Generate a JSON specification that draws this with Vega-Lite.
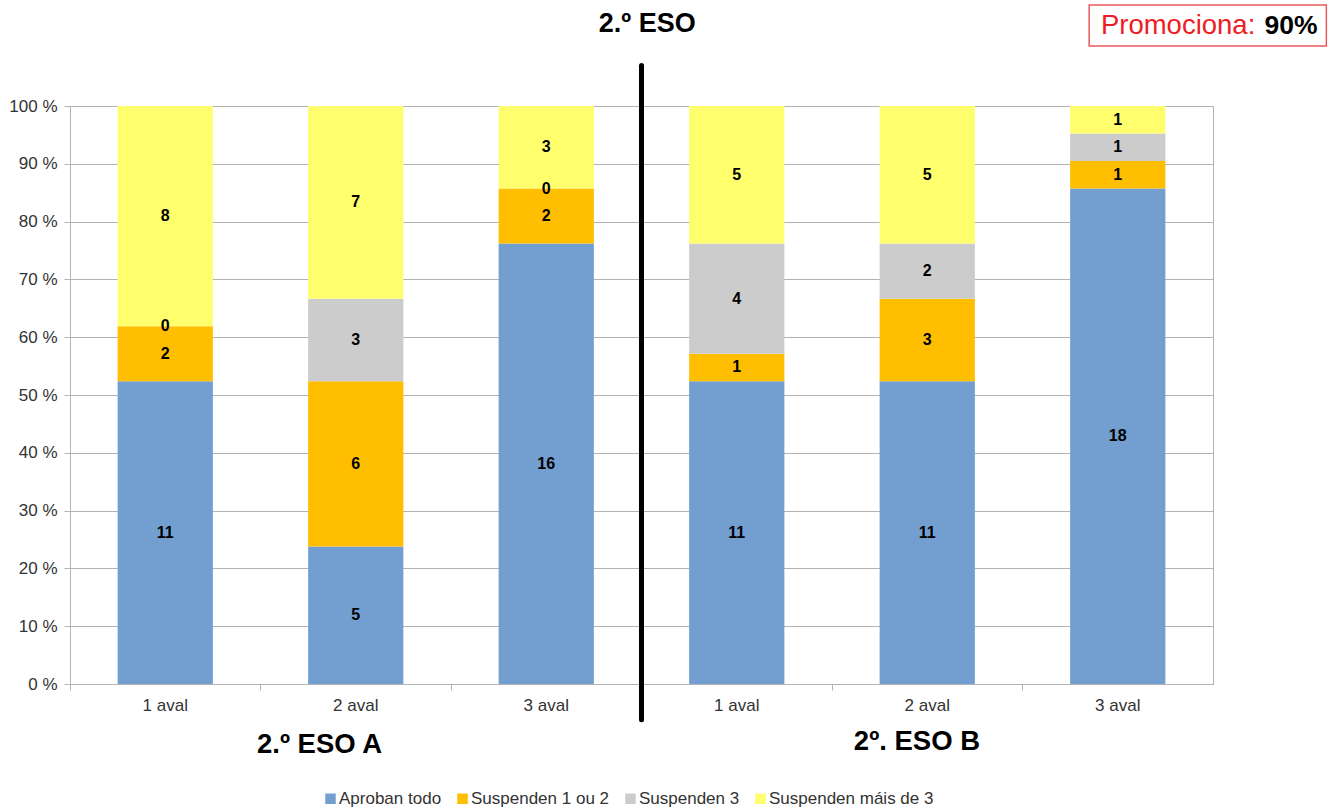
{
  "$schema": "https://vega.github.io/schema/vega-lite/v6.json",
  "width": 1143,
  "height": 578,
  "autosize": {"type": "none"},
  "padding": {"left": 70, "top": 106, "right": 125, "bottom": 126},
  "config": {
    "font": "Liberation Sans",
    "view": {"stroke": "#b3b3b3", "strokeWidth": 1}
  },
  "data": {
    "values": [
      {"k": "A 1 aval", "estado": "Aproban todo", "n": 11},
      {"k": "A 1 aval", "estado": "Suspenden 1 ou 2", "n": 2},
      {"k": "A 1 aval", "estado": "Suspenden 3", "n": 0},
      {"k": "A 1 aval", "estado": "Suspenden máis de 3", "n": 8},
      {"k": "A 2 aval", "estado": "Aproban todo", "n": 5},
      {"k": "A 2 aval", "estado": "Suspenden 1 ou 2", "n": 6},
      {"k": "A 2 aval", "estado": "Suspenden 3", "n": 3},
      {"k": "A 2 aval", "estado": "Suspenden máis de 3", "n": 7},
      {"k": "A 3 aval", "estado": "Aproban todo", "n": 16},
      {"k": "A 3 aval", "estado": "Suspenden 1 ou 2", "n": 2},
      {"k": "A 3 aval", "estado": "Suspenden 3", "n": 0},
      {"k": "A 3 aval", "estado": "Suspenden máis de 3", "n": 3},
      {"k": "B 1 aval", "estado": "Aproban todo", "n": 11},
      {"k": "B 1 aval", "estado": "Suspenden 1 ou 2", "n": 1},
      {"k": "B 1 aval", "estado": "Suspenden 3", "n": 4},
      {"k": "B 1 aval", "estado": "Suspenden máis de 3", "n": 5},
      {"k": "B 2 aval", "estado": "Aproban todo", "n": 11},
      {"k": "B 2 aval", "estado": "Suspenden 1 ou 2", "n": 3},
      {"k": "B 2 aval", "estado": "Suspenden 3", "n": 2},
      {"k": "B 2 aval", "estado": "Suspenden máis de 3", "n": 5},
      {"k": "B 3 aval", "estado": "Aproban todo", "n": 18},
      {"k": "B 3 aval", "estado": "Suspenden 1 ou 2", "n": 1},
      {"k": "B 3 aval", "estado": "Suspenden 3", "n": 1},
      {"k": "B 3 aval", "estado": "Suspenden máis de 3", "n": 1}
    ]
  },
  "encoding": {
    "x": {
      "field": "k",
      "type": "nominal",
      "sort": null,
      "scale": {"paddingInner": 0, "paddingOuter": 0},
      "axis": {
        "title": null,
        "labelExpr": "substring(datum.value, 2)",
        "labelAngle": 0,
        "bandPosition": 0,
        "tickSize": 6,
        "labelPadding": 7,
        "labelFontSize": 17,
        "labelColor": "#333333",
        "domainColor": "#b3b3b3",
        "tickColor": "#b3b3b3",
        "grid": false
      }
    }
  },
  "layer": [
    {
      "mark": {"type": "bar", "width": {"band": 0.5}},
      "encoding": {
        "y": {
          "field": "n",
          "type": "quantitative",
          "stack": "normalize",
          "scale": {"domain": [0, 1], "nice": false},
          "axis": {
            "title": null,
            "values": [0, 0.1, 0.2, 0.3, 0.4, 0.5, 0.6, 0.7, 0.8, 0.9, 1],
            "labelExpr": "format(datum.value * 100, 'd') + ' %'",
            "tickSize": 6,
            "labelPadding": 7,
            "labelFontSize": 17,
            "labelColor": "#333333",
            "gridColor": "#b3b3b3",
            "domainColor": "#b3b3b3",
            "tickColor": "#b3b3b3"
          }
        },
        "color": {
          "field": "estado",
          "type": "nominal",
          "scale": {
            "domain": ["Aproban todo", "Suspenden 1 ou 2", "Suspenden 3", "Suspenden máis de 3"],
            "range": ["#729fcf", "#ffbf00", "#cccccc", "#ffff6d"]
          },
          "legend": {
            "title": null,
            "orient": "none",
            "direction": "horizontal",
            "legendX": 252,
            "legendY": 684,
            "symbolType": "square",
            "symbolSize": 110,
            "symbolStrokeWidth": 0,
            "labelFontSize": 17,
            "labelColor": "#333333",
            "labelOffset": 0,
            "labelLimit": 0,
            "columnPadding": 12
          }
        },
        "order": {"field": "estado", "sort": "ascending"}
      }
    },
    {
      "mark": {"type": "text", "fontWeight": "bold", "fontSize": 16, "color": "#000000", "baseline": "middle"},
      "encoding": {
        "y": {"field": "n", "type": "quantitative", "stack": "normalize", "bandPosition": 0.5},
        "detail": {"field": "estado"},
        "order": {"field": "estado", "sort": "ascending"},
        "text": {"field": "n", "type": "quantitative"}
      }
    },
    {
      "data": {"values": [{}]},
      "mark": {"type": "rule", "color": "#000000", "strokeWidth": 5, "strokeCap": "round"},
      "encoding": {
        "x": {"datum": "A 3 aval", "bandPosition": 1},
        "y": {"datum": 1.07, "type": "quantitative"},
        "y2": {"datum": -0.062}
      }
    },
    {
      "data": {"values": [{}]},
      "mark": {"type": "rect", "fill": "#ffffff", "stroke": "#e8585c", "strokeWidth": 1.5},
      "encoding": {
        "x": {"datum": "B 3 aval", "bandPosition": 0.35},
        "x2": {"datum": "B 3 aval", "bandPosition": 1.595},
        "y": {"datum": 1.1747, "type": "quantitative"},
        "y2": {"datum": 1.1038}
      }
    },
    {
      "data": {"values": [{"t": "Promociona:"}]},
      "mark": {"type": "text", "align": "right", "baseline": "middle", "fontSize": 27.5, "color": "#ee1c25"},
      "encoding": {
        "x": {"datum": "B 3 aval", "bandPosition": 1.222},
        "y": {"datum": 1.139, "type": "quantitative"},
        "text": {"field": "t"}
      }
    },
    {
      "data": {"values": [{"t": "90%"}]},
      "mark": {"type": "text", "align": "left", "baseline": "middle", "fontSize": 26.5, "fontWeight": "bold", "color": "#000000"},
      "encoding": {
        "x": {"datum": "B 3 aval", "bandPosition": 1.27},
        "y": {"datum": 1.139, "type": "quantitative"},
        "text": {"field": "t"}
      }
    },
    {
      "data": {"values": [{"t": "2.º ESO"}]},
      "mark": {"type": "text", "align": "center", "baseline": "middle", "fontSize": 27, "fontWeight": "bold", "color": "#000000"},
      "encoding": {
        "x": {"datum": "A 3 aval", "bandPosition": 1.03},
        "y": {"datum": 1.142, "type": "quantitative"},
        "text": {"field": "t"}
      }
    },
    {
      "data": {"values": [{"t": "2.º ESO A"}]},
      "mark": {"type": "text", "align": "center", "baseline": "middle", "fontSize": 27.5, "fontWeight": "bold", "color": "#000000"},
      "encoding": {
        "x": {"datum": "A 2 aval", "bandPosition": 0.31},
        "y": {"datum": -0.1055, "type": "quantitative"},
        "text": {"field": "t"}
      }
    },
    {
      "data": {"values": [{"t": "2º. ESO B"}]},
      "mark": {"type": "text", "align": "center", "baseline": "middle", "fontSize": 27.5, "fontWeight": "bold", "color": "#000000"},
      "encoding": {
        "x": {"datum": "B 2 aval", "bandPosition": 0.446},
        "y": {"datum": -0.1, "type": "quantitative"},
        "text": {"field": "t"}
      }
    }
  ]
}
